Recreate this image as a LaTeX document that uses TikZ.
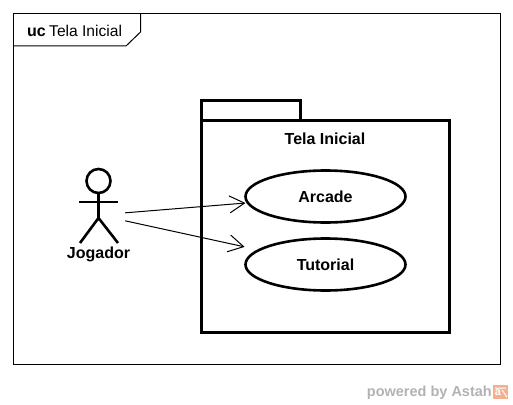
\documentclass[tikz,border=0pt]{standalone}
\usepackage{fontspec}
\setmainfont{Liberation Sans}
\usetikzlibrary{shapes.geometric,arrows.meta}
\definecolor{wm}{RGB}{178,178,178}
\definecolor{astah}{RGB}{244,176,144}
\tikzset{
  frameline/.style={draw=black,line width=1pt},
  pkgline/.style={draw=black,line width=3pt,line join=miter},
  usecase/.style={ellipse,draw=black,line width=2.6pt,minimum width=160pt,minimum height=52pt,inner sep=0pt,font=\bfseries\fontsize{16}{18}\selectfont},
  actorline/.style={draw=black,line width=2.6pt},
  assoc/.style={draw=black,line width=1pt,-{Straight Barb[length=15pt,width=17pt,line width=1pt]},shorten >=1pt},
  lbl/.style={inner sep=0pt,font=\bfseries\fontsize{16}{18}\selectfont}
}
\begin{document}
\begin{tikzpicture}[x=1pt,y=-1pt]
\useasboundingbox (0,0) rectangle (513,404);
% frame
\draw[frameline] (13.5,13.5) rectangle (500,364.5);
\draw[frameline] (13.5,46) -- (126,46) -- (140.5,32) -- (140.5,13.5);
\node[inner sep=0pt,anchor=base west,font=\bfseries\fontsize{16}{18}\selectfont] (uc) at (27,37) {uc};
\node[inner sep=0pt,anchor=base west,font=\fontsize{15.6}{18}\selectfont] (title) at (49,37) {Tela Inicial};
% package
\draw[pkgline] (201.5,120.5) -- (201.5,100.5) -- (300.5,100.5) -- (300.5,120.5);
\draw[pkgline] (201.5,120.5) rectangle (449,332);
\node[lbl] (pkg) at (325,138.5) {Tela Inicial};
% use cases
\node[usecase] (arcade) at (325.5,196.5) {Arcade};
\node[usecase] (tutorial) at (325.5,264.5) {Tutorial};
% actor
\draw[actorline] (98.5,181) circle (12);
\draw[actorline] (79,202) -- (118,202);
\draw[actorline] (98.5,193) -- (98.5,218) (80,243) -- (98.5,218) -- (118,243);
\node[lbl] (jogador) at (98.5,254.5) {Jogador};
\node[minimum width=53pt,minimum height=60pt,inner sep=0pt] (actor) at (98.5,215) {};
% associations
\draw[assoc] (actor) -- (arcade);
\draw[assoc,shorten >=13pt] (actor) -- (tutorial);
% watermark
\node[inner sep=0pt,anchor=base east,text=wm,font=\bfseries\fontsize{14.5}{16}\selectfont] (powered) at (492,396) {powered by Astah};
\fill[astah] (493,385) rectangle (508,399);
\node[inner sep=0pt,text=white,font=\bfseries\fontsize{11}{12}\selectfont] (astahmark) at (498,393) {a};
\draw[white,line width=1pt] (502,390) -- (507,397) (495,388) -- (506,388);
\end{tikzpicture}
\end{document}
